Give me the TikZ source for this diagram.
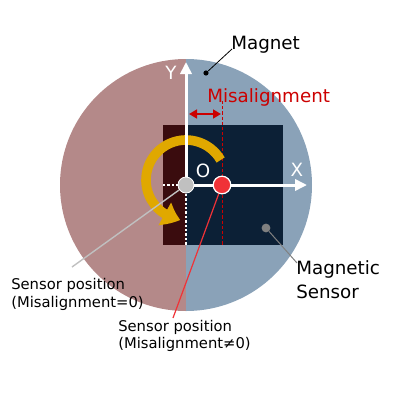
\documentclass[tikz,border=0pt]{standalone}
\usepackage{fontspec}
\setmainfont{DejaVu Sans}
\usetikzlibrary{arrows.meta,bending}
\definecolor{magL}{HTML}{B48989}
\definecolor{magR}{HTML}{8AA2B8}
\definecolor{senL}{HTML}{3A0C0E}
\definecolor{senR}{HTML}{0C2036}
\definecolor{arcY}{HTML}{E0A800}
\definecolor{misR}{HTML}{CC0000}
\definecolor{dotR}{HTML}{F03237}
\definecolor{dotG}{HTML}{C0C0C0}
\tikzset{
  big/.style={font=\fontsize{13pt}{15pt}\selectfont, inner sep=0pt},
  small/.style={font=\fontsize{10.5pt}{13pt}\selectfont, inner sep=0pt},
  axis/.style={white, line width=0.75mm, -{Triangle[length=3mm,width=2.8mm]}},
  guide/.style={white, line width=0.3mm, dash pattern=on 0.6mm off 0.5mm},
}
\begin{document}
\begin{tikzpicture}[x=0.25mm,y=-0.25mm]
\useasboundingbox (0,0) rectangle (400,400);
% magnet halves
\fill[magL] (186,59) arc[start angle=-90,end angle=-270,radius=126] -- cycle;
\fill[magR] (186,59) arc[start angle=-90,end angle=90,radius=126] -- cycle;
% sensor
\fill[senL] (163,125) rectangle (186,245);
\fill[senR] (186,125) rectangle (283,245);
% red dashed misalignment line
\draw[misR, line width=0.2mm, dash pattern=on 0.8mm off 0.5mm] (222,101) -- (222,245);
% white dashed guides
\draw[guide] (186,185) -- (186,245);
\draw[guide] (163,185) -- (186,185);
% yellow rotation arc
\draw[arcY, line width=2.4mm, -{Triangle[length=4.2mm,width=6.2mm,bend]}] (186,180) ++(-30:40) arc[start angle=-30,end angle=-262,radius=40];
% axes
\coordinate (ytip) at (186,62);
\coordinate (xtip) at (307,185);
\coordinate (ybase) at (186,185);
\draw[axis] (ybase) -- (ytip);
\draw[axis] (ybase) -- (xtip);
% misalignment arrow
\coordinate (ma) at (189,114);
\coordinate (mb) at (221,114);
\draw[misR, line width=0.5mm, {Triangle[length=2mm,width=2.2mm]}-{Triangle[length=2mm,width=2.2mm]}] (ma) -- (mb);
% labels
\node[big, white] (Y) at (171,73) {Y};
\node[big, white] (X) at (297,170) {X};
\node[big, white] (O) at (203,171) {O};
\node[big, misR, anchor=base west] (mis) at (207,102) {Misalignment};
\node[big, anchor=base west] (magnet) at (231,49) {Magnet};
\node[big, anchor=base west] (ms1) at (296,274) {Magnetic};
\node[big, anchor=base west] (ms2) at (296,298) {Sensor};
\node[small, anchor=base west] (sp1) at (11,289) {Sensor position};
\node[small, anchor=base west] (sp1b) at (11,307) {(Misalignment=0)};
\node[small, anchor=base west] (sp2) at (118,331) {Sensor position};
\node[small, anchor=base west] (sp2b) at (118,348) {(Misalignment≠0)};
% dots and leaders
\node[circle, fill=black, inner sep=0pt, minimum size=1.3mm] (mdot) at (206,73) {};
\coordinate (mend) at (232,49);
\draw[black, line width=0.2mm] (mdot) -- (mend);
\node[circle, fill=gray, inner sep=0pt, minimum size=2.2mm] (sdot) at (266,228) {};
\coordinate (send) at (297,263);
\draw[gray, line width=0.25mm] (sdot) -- (send);
\coordinate (gend) at (72,267);
\coordinate (rend) at (173,318);
\node[circle, fill=dotG, draw=white, line width=0.2mm, inner sep=0pt, minimum size=4mm] (o) at (186,185) {};
\node[circle, fill=dotR, draw=white, line width=0.3mm, inner sep=0pt, minimum size=4.4mm] (s) at (222,185) {};
\draw[dotG, line width=0.35mm] (o) -- (gend);
\draw[dotR, line width=0.3mm] (s) -- (rend);
\end{tikzpicture}
\end{document}
